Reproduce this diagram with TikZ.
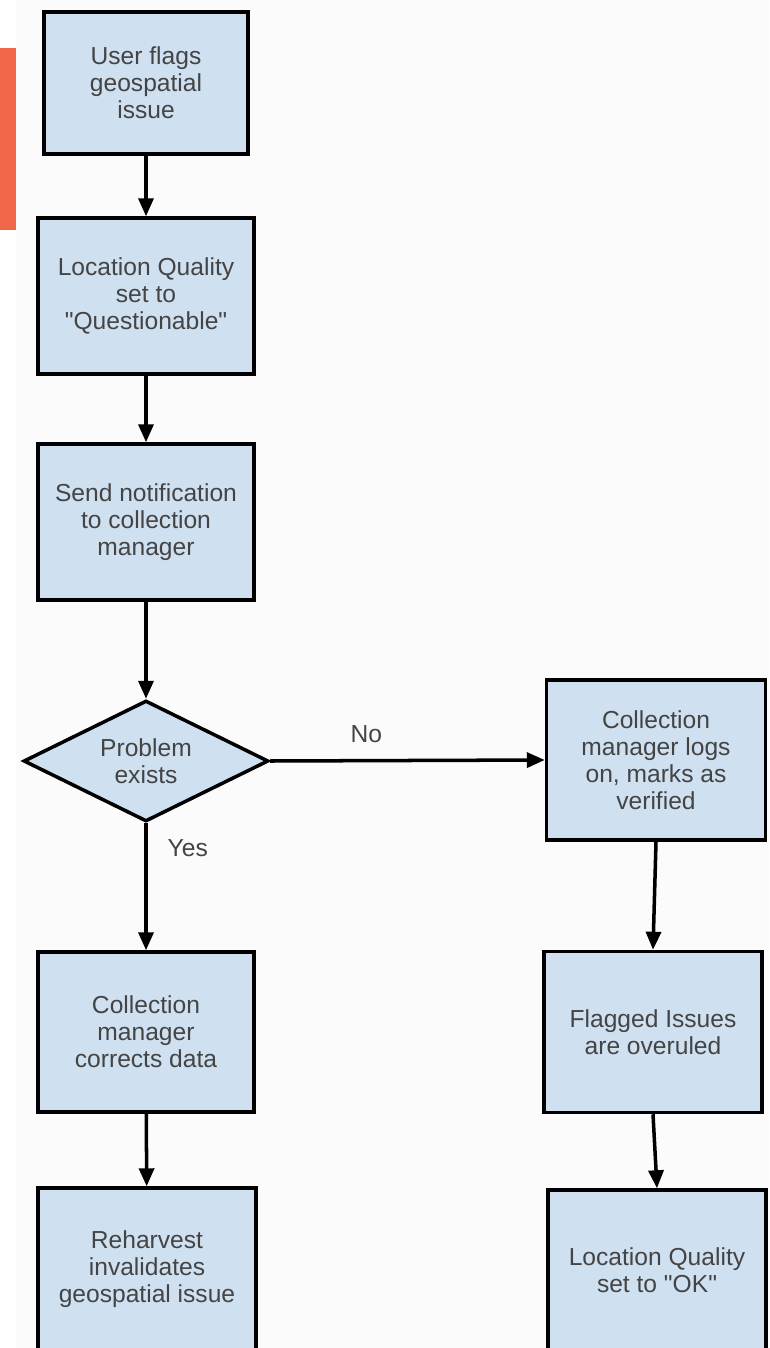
\documentclass[tikz,border=0pt]{standalone}
\usepackage{fontspec}
\setmainfont{Liberation Sans}[Ligatures=TeXOff]
\usetikzlibrary{shapes.geometric,arrows.meta}
\definecolor{boxblue}{RGB}{207,224,241}
\definecolor{bartone}{RGB}{240,102,72}
\definecolor{txtgray}{RGB}{68,68,68}

\begin{document}
\begin{tikzpicture}[x=0.02cm,y=-0.02cm,
	stepbox/.style={draw,line width=2pt,fill=boxblue,align=center,text=txtgray,
		font=\fontsize{14}{15.4}\selectfont,minimum width=4.32cm,minimum height=3.12cm,inner sep=0pt},
	choice/.style={diamond,aspect=2,draw,line width=2pt,fill=boxblue,align=center,text=txtgray,
		font=\fontsize{14}{15.4}\selectfont,minimum width=4.9cm,minimum height=2.42cm,inner sep=0pt},
	flow/.style={-{Triangle[length=0.36cm,width=0.3cm]},line width=2pt},
	tag/.style={text=txtgray,font=\fontsize{14}{15.4}\selectfont}]
	\useasboundingbox (0,0) rectangle (769,1348);
	\fill[white] (0,0) rectangle (769,1348);
	\fill[gray!3] (16,0) rectangle (769,1348);
	\fill[bartone] (0,48) rectangle (16,230);

	\node[stepbox,minimum width=4.08cm,minimum height=2.84cm] (flag) at (146,83) {User flags\\geospatial\\issue};
	\node[stepbox] (quality) at (146,296) {Location Quality\\set to\\"Questionable"};
	\node[stepbox] (notify) at (146,522) {Send notification\\to collection\\manager};
	\node[choice] (problem) at (146,761) {Problem\\exists};
	\node[stepbox,minimum width=4.38cm,minimum height=3.2cm] (verify) at (656,760) {Collection\\manager logs\\on, marks as\\verified};
	\node[stepbox,minimum height=3.2cm] (correct) at (146,1032) {Collection\\manager\\corrects data};
	\node[stepbox,minimum width=4.36cm,minimum height=3.22cm] (overrule) at (653,1032) {Flagged Issues\\are overuled};
	\node[stepbox,minimum width=4.36cm,minimum height=3.24cm] (reharvest) at (147,1269) {Reharvest\\invalidates\\geospatial issue};
	\node[stepbox,minimum width=4.36cm,minimum height=3.2cm] (ok) at (657,1270) {Location Quality\\set to "OK"};

	\draw[flow] (flag) -- (quality);
	\draw[flow] (quality) -- (notify);
	\draw[flow] (notify) -- (problem);
	\draw[flow] (problem.east) -- (verify.west) node[tag,pos=0.35,anchor=south,yshift=6pt] {No};
	\draw[flow] (problem.south) -- (correct.north) node[tag,pos=0.2,anchor=west,xshift=8pt] {Yes};
	\draw[flow] (correct) -- (reharvest);
	\draw[flow] (verify.south) -- (overrule.north);
	\draw[flow] (overrule.south) -- (ok.north);
\end{tikzpicture}
\end{document}
